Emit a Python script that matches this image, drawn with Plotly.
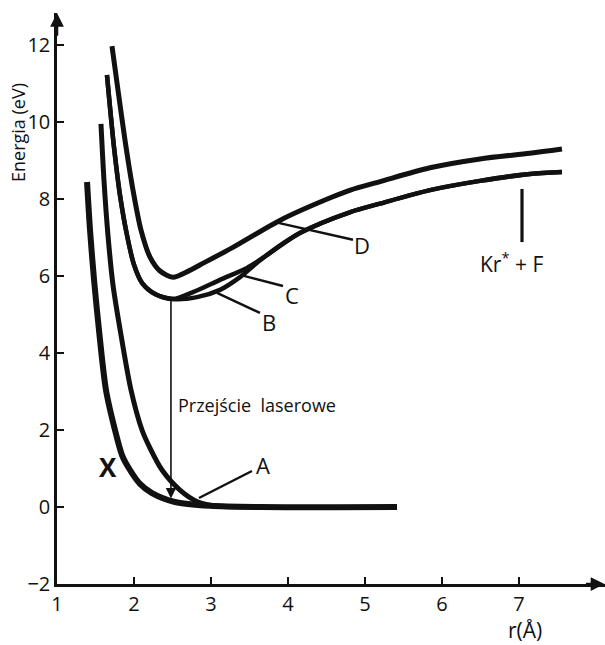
import plotly.graph_objects as go

# ---- data (r in Å, energy in eV) ----
x_X = [1.390, 1.429, 1.481, 1.545, 1.636, 1.753, 1.844, 1.948, 2.078, 2.234, 2.532, 2.987, 3.636, 5.416]
y_X = [8.44, 7.19, 5.90, 4.60, 3.04, 2.00, 1.35, 0.96, 0.60, 0.36, 0.13, 0.03, 0.00, 0.00]

x_A = [1.571, 1.610, 1.662, 1.727, 1.831, 1.961, 2.104, 2.208, 2.364, 2.597, 2.831, 3.052, 3.506]
y_A = [9.95, 8.49, 7.06, 5.77, 4.47, 3.04, 2.00, 1.53, 0.96, 0.44, 0.13, 0.03, 0.00]

x_B = [1.649, 1.688, 1.740, 1.818, 1.909, 2.000, 2.104, 2.273, 2.506, 2.818, 3.117, 3.377,
       3.675, 4.160, 4.810, 5.195, 5.844, 6.494, 7.143, 7.558]
y_B = [11.22, 10.39, 9.35, 8.10, 7.06, 6.29, 5.82, 5.53, 5.40, 5.45, 5.64, 5.97,
       6.47, 7.12, 7.66, 7.88, 8.23, 8.47, 8.65, 8.70]

x_C = [1.649, 1.688, 1.740, 1.818, 1.909, 2.000, 2.104, 2.273, 2.506, 2.766, 3.117, 3.468,
       3.675, 4.160, 4.810, 5.195, 5.844, 6.494, 7.143, 7.558]
y_C = [11.22, 10.39, 9.35, 8.10, 7.06, 6.29, 5.82, 5.53, 5.40, 5.58, 5.90, 6.21,
       6.47, 7.12, 7.66, 7.88, 8.23, 8.47, 8.65, 8.70]

x_D = [1.714, 1.792, 1.883, 1.987, 2.091, 2.208, 2.338, 2.506, 2.700, 2.860, 3.290, 3.900,
       4.550, 4.810, 5.195, 5.844, 6.494, 7.143, 7.558]
y_D = [11.97, 10.83, 9.53, 8.23, 7.19, 6.49, 6.13, 5.97, 6.12, 6.29, 6.75, 7.45,
       8.03, 8.23, 8.45, 8.81, 9.04, 9.19, 9.30]

x_ticks = [1, 2, 3, 4, 5, 6, 7]
y_ticks = [-2, 0, 2, 4, 6, 8, 10, 12]

# laser transition (start on B/C minimum, end on X)
trans_x = 2.48
trans_top = 5.40
trans_bottom = 0.22

FONT = "Open Sans"
INK = "#111111"

fig = go.Figure()
for xs, ys, w in [(x_X, y_X, 6), (x_A, y_A, 5), (x_B, y_B, 4.5), (x_C, y_C, 4.5), (x_D, y_D, 5)]:
    fig.add_trace(go.Scatter(x=xs, y=ys, mode="lines",
                             line=dict(color=INK, width=w, shape="spline", smoothing=0.8),
                             showlegend=False, hoverinfo="skip"))

shapes = []
# leader lines
for (x0, y0, x1, y1, w) in [(3.532, 0.935, 2.844, 0.234, 2.4),   # A
                            (3.078, 5.56, 3.636, 5.04, 2.4),     # B
                            (3.377, 6.03, 3.935, 5.74, 2.4),     # C
                            (3.831, 7.40, 4.844, 6.94, 2.4),     # D
                            (7.039, 8.26, 7.039, 6.88, 3.2)]:    # Kr*+F marker
    shapes.append(dict(type="line", xref="x", yref="y", x0=x0, y0=y0, x1=x1, y1=y1,
                       line=dict(color=INK, width=w)))

annotations = []
# axis arrows
annotations.append(dict(x=8.11, y=-2, ax=7.85, ay=-2, xref="x", yref="y", axref="x", ayref="y",
                        showarrow=True, arrowhead=2, arrowsize=1.1, arrowwidth=2.5, arrowcolor=INK, text=""))
annotations.append(dict(x=1, y=12.83, ax=1, ay=12.2, xref="x", yref="y", axref="x", ayref="y",
                        showarrow=True, arrowhead=2, arrowsize=1.1, arrowwidth=2.5, arrowcolor=INK, text=""))
# transition arrow
annotations.append(dict(x=trans_x, y=trans_bottom, ax=trans_x, ay=trans_top, xref="x", yref="y",
                        axref="x", ayref="y", showarrow=True, arrowhead=2, arrowsize=1.3,
                        arrowwidth=1.6, arrowcolor=INK, text=""))

def lab(text, x, y, size, ref="x", **kw):
    d = dict(text=text, x=x, y=y, xref=ref, yref=("y" if ref == "x" else "paper"), showarrow=False,
             xanchor="center", yanchor="middle",
             font=dict(family=FONT, size=size, color=INK))
    d.update(kw)
    annotations.append(d)

lab("Energia (eV)", -0.0712, 0.7916, 18, ref="paper", textangle=-90)
lab("r(Å)", 0.854, -0.0806, 21, ref="paper")
lab("Przejście  laserowe", 2.545, 2.65, 18, xanchor="left")
lab("<b>X</b>", 1.662, 1.04, 26)
lab("A", 3.675, 1.09, 22)
lab("B", 3.753, 4.81, 22)
lab("C", 4.052, 5.51, 22)
lab("D", 4.961, 6.81, 22)
lab("Kr<sup>*</sup> + F", 6.909, 6.36, 21)

fig.update_layout(
    width=605, height=645,
    margin=dict(l=57, r=0, t=13, b=61, autoexpand=False),
    paper_bgcolor="white", plot_bgcolor="white",
    font=dict(family=FONT, color=INK),
    shapes=shapes, annotations=annotations,
    xaxis=dict(range=[1, 8.117], tickvals=x_ticks, ticktext=[str(v) for v in x_ticks],
               showline=True, linecolor=INK, linewidth=2.5, ticks="inside", ticklen=7,
               tickwidth=2, tickcolor=INK, showgrid=False, zeroline=False,
               tickfont=dict(family=FONT, size=20, color=INK)),
    yaxis=dict(range=[-2, 12.83], tickvals=y_ticks, ticktext=[("−2" if v == -2 else str(v)) for v in y_ticks],
               showline=True, linecolor=INK, linewidth=2.5, ticks="inside", ticklen=7,
               tickwidth=2, tickcolor=INK, showgrid=False, zeroline=False,
               tickfont=dict(family=FONT, size=20, color=INK)),
)

fig.write_html("out.html")
